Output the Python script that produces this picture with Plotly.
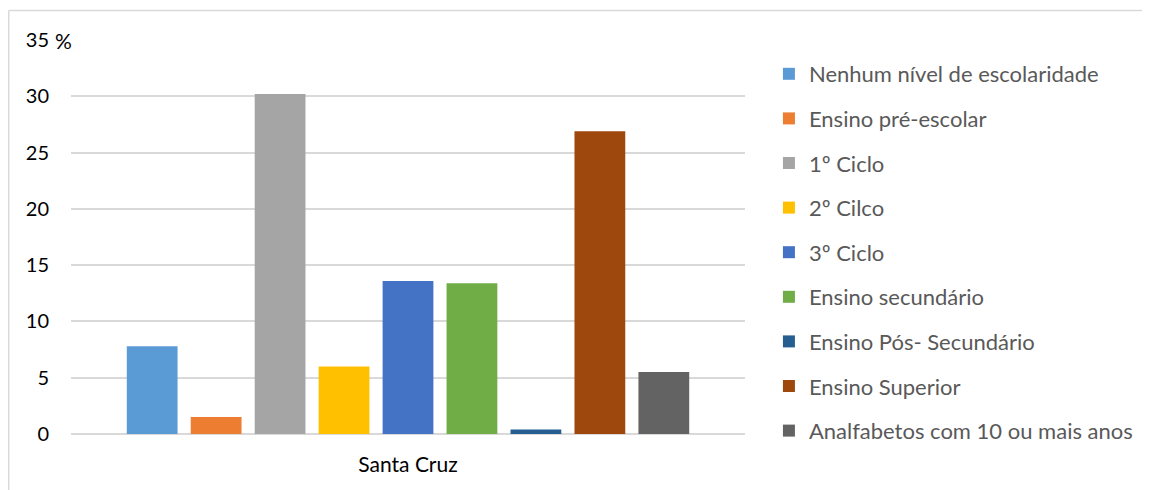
import plotly.graph_objects as go

category = ["Santa Cruz"]
series_names = [
    "Nenhum nível de escolaridade",
    "Ensino pré-escolar",
    "1º Ciclo",
    "2º Cilco",
    "3º Ciclo",
    "Ensino secundário",
    "Ensino Pós- Secundário",
    "Ensino Superior",
    "Analfabetos com 10 ou mais anos",
]
series_values = [7.8, 1.5, 30.2, 6.0, 13.6, 13.4, 0.4, 26.9, 5.5]
colors = ["#5B9BD5", "#ED7D31", "#A5A5A5", "#FFC000", "#4472C4",
          "#70AD47", "#255E91", "#9E480E", "#636363"]
tick_vals = [0, 5, 10, 15, 20, 25, 30, 35]
tick_text = ["0", "5", "10", "15", "20", "25", "30", "35"]

FONT = "Lato"

fig = go.Figure()
for i, (name, val, col) in enumerate(zip(series_names, series_values, colors)):
    fig.add_trace(go.Bar(
        x=category, y=[val], name=name, marker_color=col,
        marker_line_width=0, legendgroup=f"g{i}",
    ))

W, H = 1142, 482
ml, mr, mt, mb = 63, 403, 32, 56
pw = W - ml - mr
ph = H - mt - mb

fig.update_layout(
    width=W, height=H,
    margin=dict(l=ml, r=mr, t=mt, b=mb),
    paper_bgcolor="white", plot_bgcolor="white",
    barmode="group", bargap=0.146, bargroupgap=0.206,
    font=dict(family=FONT, size=21, color="#000000"),
    showlegend=True,
    legend=dict(
        x=(763 - ml) / pw, y=(mt + ph - 45) / ph, xanchor="left", yanchor="top",
        font=dict(family=FONT, size=22, color="#595959"),
        tracegroupgap=13, bgcolor="rgba(0,0,0,0)", maxheight=475,
    ),
    xaxis=dict(showgrid=False, showline=False, zeroline=False,
               ticks="", ticklabelstandoff=16,
               tickfont=dict(family=FONT, size=21, color="#000000")),
    yaxis=dict(range=[0, 35], tickvals=tick_vals, ticktext=tick_text,
               showgrid=True, gridcolor="#D9D9D9", gridwidth=1.5,
               zeroline=True, zerolinecolor="#D9D9D9", zerolinewidth=2,
               showline=False, ticks="", ticklabelstandoff=21,
               tickfont=dict(family=FONT, size=20, color="#000000")),
    shapes=[
        dict(type="line", xref="paper", yref="paper",
             x0=(0.5 - ml) / pw, x1=(W - ml) / pw,
             y0=(mt + ph - 2.5) / ph, y1=(mt + ph - 2.5) / ph,
             line=dict(color="#D9D9D9", width=1.5), layer="below"),
        dict(type="line", xref="paper", yref="paper",
             x0=(0.5 - ml) / pw, x1=(0.5 - ml) / pw,
             y0=(mt + ph - 2.5) / ph, y1=(mt + ph - H) / ph,
             line=dict(color="#D9D9D9", width=1.5), layer="below"),
    ],
    annotations=[dict(text="%", xref="paper", yref="y",
                      x=(45 - ml) / pw, y=35, xanchor="left", yanchor="middle",
                      showarrow=False, font=dict(family=FONT, size=21, color="#000000"))],
)

fig.write_html("out.html")
